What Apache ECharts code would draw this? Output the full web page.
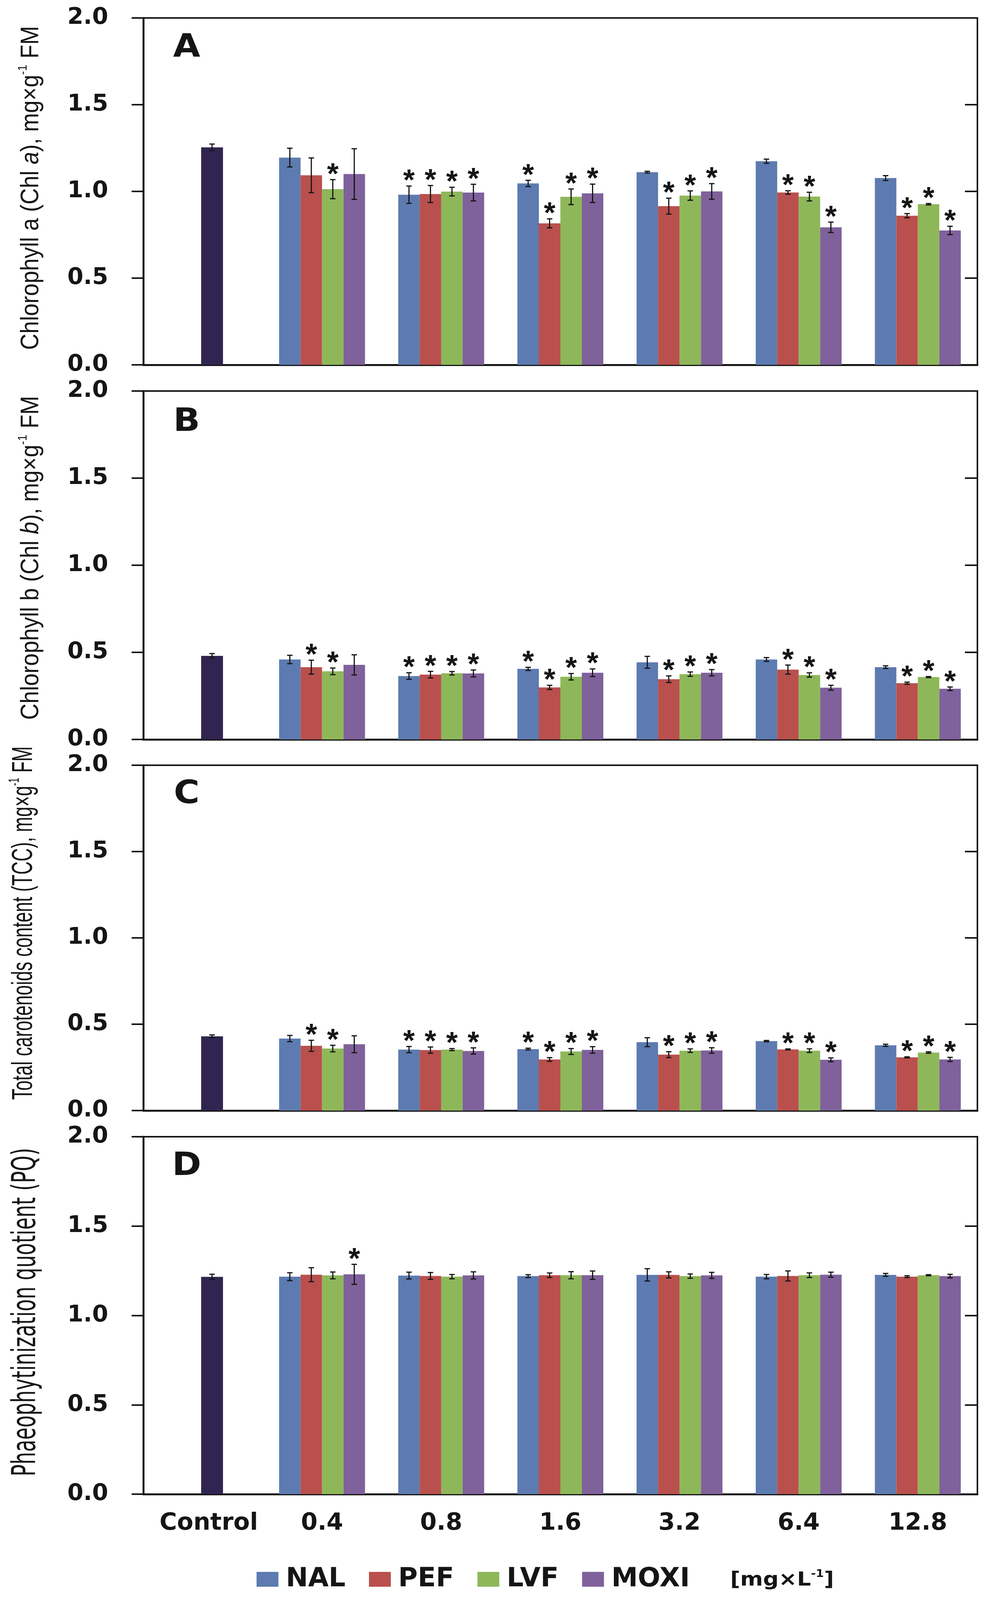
<!DOCTYPE html>
<html><head><meta charset="utf-8">
<script src="https://cdn.jsdelivr.net/npm/echarts@6/dist/echarts.min.js"></script>
<style>html,body{margin:0;padding:0;background:#fff;overflow:hidden}#c{width:2525px}</style>
</head><body><div id="c"></div>
<script>
// ---------------- DATA ----------------
const categories = ['Control', '0.4', '0.8', '1.6', '3.2', '6.4', '12.8'];
const seriesNames = ['NAL', 'PEF', 'LVF', 'MOXI'];
const yTicks = [0, 0.5, 1.0, 1.5, 2.0];

// Panel A - Chlorophyll a
const chlA_ctrl = 1.254, chlA_ctrl_err = 0.019;
const chlA_NAL  = [1.195, 0.981, 1.046, 1.111, 1.174, 1.077];
const chlA_PEF  = [1.093, 0.985, 0.816, 0.915, 0.994, 0.860];
const chlA_LVF  = [1.013, 0.999, 0.969, 0.976, 0.970, 0.926];
const chlA_MOXI = [1.100, 0.993, 0.989, 1.000, 0.793, 0.775];
const chlA_NAL_err  = [0.054, 0.050, 0.018, 0.005, 0.012, 0.014];
const chlA_PEF_err  = [0.100, 0.049, 0.026, 0.046, 0.010, 0.012];
const chlA_LVF_err  = [0.055, 0.025, 0.045, 0.027, 0.025, 0.004];
const chlA_MOXI_err = [0.146, 0.048, 0.053, 0.045, 0.030, 0.024];
const chlA_sig = [[0,1,1,0,0,0],[0,1,1,1,1,1],[1,1,1,1,1,1],[0,1,1,1,1,1]];

// Panel B - Chlorophyll b
const chlB_ctrl = 0.480, chlB_ctrl_err = 0.013;
const chlB_NAL  = [0.459, 0.364, 0.405, 0.443, 0.459, 0.415];
const chlB_PEF  = [0.415, 0.372, 0.299, 0.346, 0.401, 0.323];
const chlB_LVF  = [0.391, 0.380, 0.360, 0.375, 0.370, 0.358];
const chlB_MOXI = [0.428, 0.379, 0.383, 0.383, 0.297, 0.291];
const chlB_NAL_err  = [0.024, 0.019, 0.009, 0.034, 0.011, 0.0075];
const chlB_PEF_err  = [0.040, 0.019, 0.012, 0.019, 0.026, 0.006];
const chlB_LVF_err  = [0.019, 0.010, 0.0185, 0.0125, 0.0125, 0.003];
const chlB_MOXI_err = [0.058, 0.020, 0.022, 0.018, 0.014, 0.010];
const chlB_sig = [[0,1,1,0,0,0],[1,1,1,1,1,1],[1,1,1,1,1,1],[0,1,1,1,1,1]];

// Panel C - Total carotenoids content
const tcc_ctrl = 0.430, tcc_ctrl_err = 0.008;
const tcc_NAL  = [0.417, 0.353, 0.356, 0.396, 0.402, 0.378];
const tcc_PEF  = [0.375, 0.350, 0.296, 0.324, 0.354, 0.308];
const tcc_LVF  = [0.359, 0.353, 0.342, 0.347, 0.347, 0.336];
const tcc_MOXI = [0.384, 0.345, 0.351, 0.348, 0.294, 0.296];
const tcc_NAL_err  = [0.018, 0.018, 0.005, 0.026, 0.004, 0.006];
const tcc_PEF_err  = [0.032, 0.018, 0.0105, 0.017, 0.003, 0.003];
const tcc_LVF_err  = [0.019, 0.006, 0.017, 0.010, 0.0105, 0.004];
const tcc_MOXI_err = [0.049, 0.018, 0.019, 0.016, 0.011, 0.012];
const tcc_sig = [[0,1,1,0,0,0],[1,1,1,1,1,1],[1,1,1,1,1,1],[0,1,1,1,1,1]];

// Panel D - Phaeophytinization quotient
const pq_ctrl = 1.216, pq_ctrl_err = 0.0145;
const pq_NAL  = [1.217, 1.223, 1.220, 1.227, 1.217, 1.227];
const pq_PEF  = [1.228, 1.221, 1.225, 1.227, 1.221, 1.217];
const pq_LVF  = [1.224, 1.217, 1.225, 1.220, 1.225, 1.225];
const pq_MOXI = [1.230, 1.224, 1.225, 1.224, 1.228, 1.220];
const pq_NAL_err  = [0.022, 0.019, 0.008, 0.0345, 0.012, 0.008];
const pq_PEF_err  = [0.039, 0.019, 0.0125, 0.017, 0.028, 0.005];
const pq_LVF_err  = [0.019, 0.012, 0.020, 0.012, 0.013, 0.003];
const pq_MOXI_err = [0.056, 0.020, 0.0235, 0.017, 0.014, 0.010];
const pq_sig = [[0,0,0,0,0,0],[0,0,0,0,0,0],[0,0,0,0,0,0],[1,0,0,0,0,0]];

const panelLetters = ['A', 'B', 'C', 'D'];

// ---------------- STYLE / LAYOUT ----------------
const W = 2525, REF_H = 4541;
const H = Math.min(REF_H, window.innerHeight || REF_H);
const SY = H / REF_H;                  // vertical fit factor (viewport may be shorter)
const Y = v => Math.round(v * SY);
const FS = Math.sqrt(SY);              // mild font scale
document.getElementById('c').style.height = H + 'px';

const COLORS = ['#5d7bb0', '#b9504d', '#8eb75a', '#7f619b'];
const CTRL_COLOR = '#302550';
const INK = '#151515';
const GRID_LEFT = 367, GRID_WIDTH = 2136;
const layout = [
  {top: 51, height: 984, letterY: 138, titleY: 533},
  {top: 1110, height: 989, letterY: 1200, titleY: 1583},
  {top: 2172, height: 980, letterY: 2256, titleY: 2620},
  {top: 3226, height: 1015, letterY: 3311, titleY: 3724}
];
const BAR_W = 55, DUMMY_W = 47, CTRL_W = 56;

const panels = [
  {ctrl: chlA_ctrl, ctrlErr: chlA_ctrl_err, vals: [chlA_NAL, chlA_PEF, chlA_LVF, chlA_MOXI], errs: [chlA_NAL_err, chlA_PEF_err, chlA_LVF_err, chlA_MOXI_err], sig: chlA_sig},
  {ctrl: chlB_ctrl, ctrlErr: chlB_ctrl_err, vals: [chlB_NAL, chlB_PEF, chlB_LVF, chlB_MOXI], errs: [chlB_NAL_err, chlB_PEF_err, chlB_LVF_err, chlB_MOXI_err], sig: chlB_sig},
  {ctrl: tcc_ctrl, ctrlErr: tcc_ctrl_err, vals: [tcc_NAL, tcc_PEF, tcc_LVF, tcc_MOXI], errs: [tcc_NAL_err, tcc_PEF_err, tcc_LVF_err, tcc_MOXI_err], sig: tcc_sig},
  {ctrl: pq_ctrl, ctrlErr: pq_ctrl_err, vals: [pq_NAL, pq_PEF, pq_LVF, pq_MOXI], errs: [pq_NAL_err, pq_PEF_err, pq_LVF_err, pq_MOXI_err], sig: pq_sig}
];

const grids = [], xAxes = [], yAxes = [], series = [];
const tickFont = {fontFamily: 'DejaVu Sans', fontWeight: 'bold', fontSize: Math.round(62 * FS), color: INK};
const catFS = Math.round(64 * FS);

panels.forEach((p, k) => {
  const L = layout[k];
  const gTop = Y(L.top), gH = Y(L.top + L.height) - Y(L.top);
  grids.push({left: GRID_LEFT, top: gTop, width: GRID_WIDTH, height: gH, show: true,
    borderColor: INK, borderWidth: 4, backgroundColor: 'transparent'});
  xAxes.push({type: 'category', gridIndex: k, data: categories,
    axisLine: {show: true, lineStyle: {color: INK, width: 5}}, axisTick: {show: false},
    splitLine: {show: false},
    axisLabel: {show: k === 3, interval: 0, hideOverlap: false, margin: Y(50), fontFamily: 'DejaVu Sans', fontWeight: 'bold', fontSize: catFS, color: INK,
      formatter: v => v === 'Control' ? '{c|Control}' : v,
      rich: {c: {padding: [0, 0, 0, 30], fontFamily: 'DejaVu Sans', fontWeight: 'bold', fontSize: catFS, color: INK}}}});
  xAxes.push({type: 'category', gridIndex: k, data: categories, show: false});
  yAxes.push({type: 'value', gridIndex: k, min: yTicks[0], max: yTicks[yTicks.length - 1], interval: 0.5,
    axisLine: {show: true, lineStyle: {color: INK, width: 5}},
    axisTick: {show: true, inside: false, length: 30, lineStyle: {color: INK, width: 4}},
    splitLine: {show: false},
    axisLabel: Object.assign({margin: 90, formatter: v => v.toFixed(1)}, tickFont)});
  yAxes.push({type: 'value', gridIndex: k, min: yTicks[0], max: yTicks[yTicks.length - 1], interval: 0.5,
    axisLine: {show: false},
    axisTick: {show: true, inside: true, length: 32, lineStyle: {color: INK, width: 4}},
    splitLine: {show: false}, axisLabel: {show: false}});

  const xi = 2 * k, xh = 2 * k + 1, yi = 2 * k;
  seriesNames.forEach((name, s) => {
    series.push({type: 'bar', name, xAxisIndex: xi, yAxisIndex: yi, barWidth: BAR_W, barGap: 0,
      itemStyle: {color: COLORS[s]}, data: [null].concat(p.vals[s]), silent: true});
  });
  series.push({type: 'bar', name: '_pad', xAxisIndex: xh, yAxisIndex: yi, barWidth: DUMMY_W, barGap: 0,
    data: categories.map(() => null), silent: true, itemStyle: {color: 'transparent'}});
  series.push({type: 'bar', name: 'Control', xAxisIndex: xh, yAxisIndex: yi, barWidth: CTRL_W, barGap: 0,
    itemStyle: {color: CTRL_COLOR}, data: [p.ctrl].concat(categories.slice(1).map(() => null)), silent: true});

  const errData = [[0, p.ctrl, p.ctrlErr, -1, 0]];
  seriesNames.forEach((name, s) => {
    p.vals[s].forEach((v, i) => errData.push([i + 1, v, p.errs[s][i], s, p.sig[s][i]]));
  });
  series.push({type: 'custom', xAxisIndex: xi, yAxisIndex: yi, silent: true, z: 10, clip: false,
    encode: {x: 0, y: 1}, data: errData,
    renderItem: (params, api) => {
      const cat = api.value(0), v = api.value(1), e = api.value(2), slot = api.value(3), sig = api.value(4);
      const base = api.coord([cat, v]);
      const hi = api.coord([cat, v + e]);
      const lo = api.coord([cat, v - e]);
      const off = slot < 0 ? (DUMMY_W / 2) : (slot - 1.5) * BAR_W;
      const x = base[0] + off;
      const cap = 7;
      const ls = {stroke: INK, lineWidth: 3};
      const children = [
        {type: 'line', shape: {x1: x, y1: hi[1], x2: x, y2: lo[1]}, style: ls},
        {type: 'line', shape: {x1: x - cap, y1: hi[1], x2: x + cap, y2: hi[1]}, style: ls},
        {type: 'line', shape: {x1: x - cap, y1: lo[1], x2: x + cap, y2: lo[1]}, style: ls}
      ];
      if (sig) {
        children.push({type: 'text', x: x, y: hi[1] - Math.round(12 * SY),
          style: {text: '*', fill: INK, font: 'bold ' + Math.round(80 * FS) + 'px "Liberation Sans"', textAlign: 'center', textVerticalAlign: 'middle'}});
      }
      return {type: 'group', children};
    }});
});

// Y axis titles (rotated; local x = along the text = screen vertical)
const titleDefs = [
  {text: '{r|Chlorophyll a (Chl }{i|a}{r|), mg×g}{s|-1}{r| FM}', family: 'Liberation Sans', size: 64, scale: 1.0, x: 80},
  {text: '{r|Chlorophyll b (Chl }{i|b}{r|), mg×g}{s|-1}{r| FM}', family: 'Liberation Sans', size: 64, scale: 1.0, x: 80},
  {text: '{r|Total carotenoids content (TCC), mg×g}{s|-1}{r| FM}', family: 'Liberation Sans', size: 74, scale: 0.70, x: 62},
  {text: '{r|Phaeophytinization quotient (PQ)}', family: 'DejaVu Sans', size: 84, scale: 0.67, x: 68}
];
const graphics = [];
titleDefs.forEach((t, k) => {
  const lh = Math.round(t.size * 1.15);
  graphics.push({type: 'text', x: t.x, y: Y(layout[k].titleY), rotation: Math.PI / 2, scaleX: t.scale * SY, scaleY: 1,
    silent: true,
    style: {text: t.text, textAlign: 'center', textVerticalAlign: 'middle', fill: INK,
      fontFamily: t.family, fontSize: t.size,
      rich: {
        r: {fontFamily: t.family, fontSize: t.size, lineHeight: lh, fill: INK},
        i: {fontFamily: t.family, fontSize: t.size, fontStyle: 'italic', lineHeight: lh, fill: INK},
        s: {fontFamily: t.family, fontSize: Math.round(t.size * 0.5), lineHeight: lh, verticalAlign: 'top', fill: INK}
      }}});
  graphics.push({type: 'text', x: 478, y: Y(layout[k].letterY), silent: true, scaleY: SY,
    style: {text: panelLetters[k], fill: INK, font: 'bold 90px "DejaVu Sans"', textAlign: 'center', textVerticalAlign: 'middle'}});
});
graphics.push({type: 'text', x: 1870, y: Y(4486), silent: true, scaleY: SY,
  style: {text: '{r|[mg×L}{s|-1}{r|]}', textVerticalAlign: 'middle', textAlign: 'left', fill: INK,
    rich: {r: {fontFamily: 'DejaVu Sans', fontWeight: 'bold', fontSize: 56, lineHeight: 66, fill: INK},
           s: {fontFamily: 'DejaVu Sans', fontWeight: 'bold', fontSize: 30, lineHeight: 66, verticalAlign: 'top', fill: INK}}}});

const legFS = Math.round(72 * FS);
const option = {
  backgroundColor: '#ffffff',
  animation: false,
  grid: grids, xAxis: xAxes, yAxis: yAxes, series,
  legend: {data: seriesNames, left: 652, top: Y(4484) - Math.round(legFS * 0.6), itemWidth: 56, itemHeight: Y(42), itemGap: 60,
    icon: 'rect', selectedMode: false,
    textStyle: {fontFamily: 'DejaVu Sans', fontWeight: 'bold', fontSize: legFS, color: INK, padding: [0, 0, 0, 14]}},
  graphic: graphics
};
const chart = echarts.init(document.getElementById('c'), null, {width: W, height: H});
chart.setOption(option);
</script></body></html>
